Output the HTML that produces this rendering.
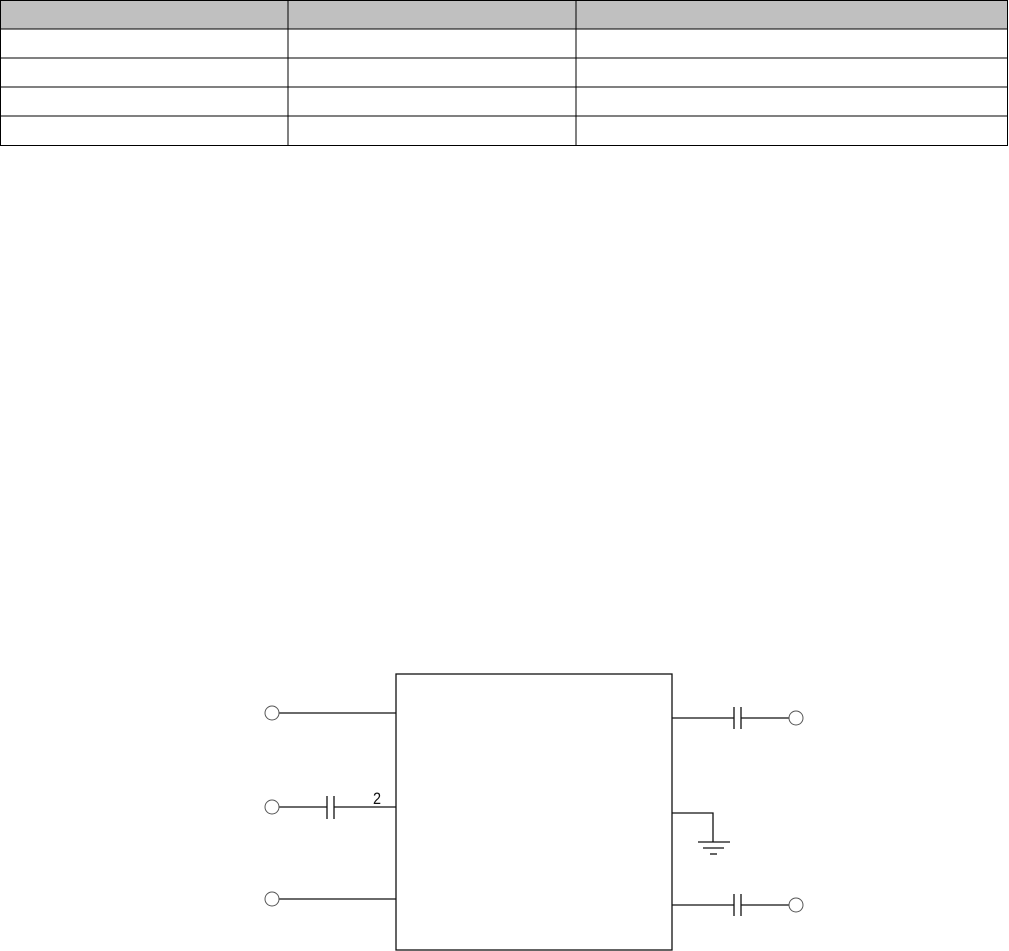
<!DOCTYPE html>
<html><head><meta charset="utf-8"><style>
html,body{margin:0;padding:0;background:#fff;width:1009px;height:951px;overflow:hidden}
svg{display:block}
</style></head><body>
<svg width="1009" height="951" viewBox="0 0 1009 951" xmlns="http://www.w3.org/2000/svg">
<rect x="0.5" y="0.5" width="1007" height="28.5" fill="#c0c0c0"/>
<g stroke="#000" stroke-width="1.4" fill="none" shape-rendering="crispEdges">
<rect x="0.5" y="0.5" width="1007" height="145"/>
<line x1="0" y1="29" x2="1008" y2="29"/>
<line x1="0" y1="58" x2="1008" y2="58"/>
<line x1="0" y1="87" x2="1008" y2="87"/>
<line x1="0" y1="116" x2="1008" y2="116"/>
<line x1="288" y1="0" x2="288" y2="146"/>
<line x1="576" y1="0" x2="576" y2="146"/>
</g>
<g stroke="#111" stroke-width="1.3" fill="none">
<rect x="396" y="674" width="276" height="276"/>
<line x1="279" y1="713" x2="396" y2="713"/>
<line x1="279" y1="807" x2="327" y2="807"/>
<line x1="334" y1="807" x2="396" y2="807"/>
<line x1="327" y1="796" x2="327" y2="819"/>
<line x1="334" y1="796" x2="334" y2="819"/>
<line x1="279" y1="899" x2="396" y2="899"/>
<line x1="672" y1="718" x2="734" y2="718"/>
<line x1="741" y1="718" x2="789" y2="718"/>
<line x1="734" y1="707" x2="734" y2="729"/>
<line x1="741" y1="707" x2="741" y2="729"/>
<line x1="672" y1="905" x2="734" y2="905"/>
<line x1="741" y1="905" x2="789" y2="905"/>
<line x1="734" y1="894" x2="734" y2="916"/>
<line x1="741" y1="894" x2="741" y2="916"/>
<polyline points="672,813 713,813 713,842"/>
<line x1="698" y1="842" x2="730" y2="842"/>
<line x1="703" y1="848" x2="724" y2="848"/>
<line x1="710" y1="854" x2="717" y2="854"/>
</g>
<g stroke="#555" stroke-width="1" fill="#fff">
<circle cx="272" cy="713" r="7"/>
<circle cx="272" cy="807" r="7"/>
<circle cx="272" cy="899" r="7"/>
<circle cx="796" cy="718" r="7"/>
<circle cx="796" cy="905" r="7"/>
</g>
<text x="373" y="804" font-family="Liberation Sans, sans-serif" font-size="17" fill="#111" transform="translate(373 0) scale(0.85 1) translate(-373 0)">2</text>
</svg>
</body></html>
